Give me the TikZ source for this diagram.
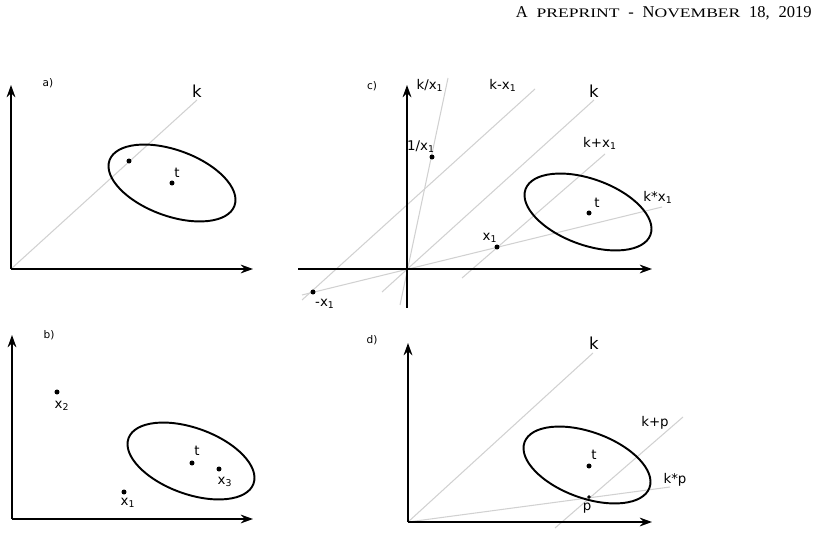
\documentclass[tikz,border=0pt]{standalone}
\usepackage{fontspec}
\setmainfont{Liberation Serif}
\newfontfamily\lblfont{DejaVu Sans}
\newfontfamily\scf[FakeStretch=1.35]{Liberation Serif}
\usetikzlibrary{arrows.meta,positioning,shapes}
\newcommand{\fsc}[1]{{\scf\fontsize{7.4}{8}\selectfont #1}}

\begin{document}
\begin{tikzpicture}[x=0.02cm,y=-0.02cm]
\tikzstyle{blackdot}=[draw=black,circle,fill=black,inner sep=0pt,minimum size=2.4pt]
\tikzstyle{axis}=[line width=1pt,-{Stealth[length=7pt,width=5pt]}]
\tikzstyle{guide}=[draw=black!18,line width=0.6pt]
\tikzstyle{region}=[draw=black,ellipse,line width=1.1pt,minimum width=2.66cm,minimum height=1.32cm,inner sep=0pt,rotate=-20]
\tikzstyle{lbl}=[font=\lblfont\fontsize{7.6}{9}\selectfont,inner sep=0pt]
\tikzstyle{biglbl}=[font=\lblfont\fontsize{9.4}{11}\selectfont,inner sep=0pt]
\tikzstyle{tag}=[font=\lblfont\fontsize{6}{7}\selectfont,inner sep=0pt]

\useasboundingbox (0,0) rectangle (820,536);
\node [anchor=base east,inner sep=0pt,font=\fontsize{9.4}{11}\selectfont] at (812,18) (head) {A\hskip5pt\fsc{PREPRINT}\hskip5pt-\hskip5pt N\fsc{OVEMBER}\hskip5pt 18,\hskip5pt 2019};

% a)
\coordinate (oa) at (11,269);
\coordinate (ya) at (11,85);
\coordinate (xa) at (253,269);
\coordinate (ka) at (197,100);
\draw [guide] (oa) -- (ka);
\node [region] at (172,183) (ea) {};
\node [blackdot] at (129,161) (qa) {};
\node [blackdot] at (172,183) (ta) {};
\draw [axis] (oa) -- (ya);
\draw [axis] (oa) -- (xa);
\node [tag] at (48,83) (taga) {a)};
\node [biglbl] at (197,91) (lka) {k};
\node [lbl] at (177,173) (lta) {t};

% b)
\coordinate (ob) at (12,519);
\coordinate (yb) at (12,335);
\coordinate (xb) at (253,519);
\node [region] at (191,461) (eb) {};
\node [blackdot] at (57,392) (x2b) {};
\node [blackdot] at (124,492) (x1b) {};
\node [blackdot] at (192,463) (tb) {};
\node [blackdot] at (219,469) (x3b) {};
\draw [axis] (ob) -- (yb);
\draw [axis] (ob) -- (xb);
\node [tag] at (49,335) (tagb) {b)};
\node [lbl] at (62,406) (lx2b) {x\textsubscript{2}};
\node [lbl] at (128,503) (lx1b) {x\textsubscript{1}};
\node [lbl] at (197,451) (ltb) {t};
\node [lbl] at (225,482) (lx3b) {x\textsubscript{3}};

% c)
\coordinate (oc) at (407,269);
\coordinate (ycb) at (407,308);
\coordinate (yc) at (407,85);
\coordinate (xcb) at (298,269);
\coordinate (xc) at (652,269);
\coordinate (kcb) at (382,292);
\coordinate (kc) at (594,100);
\coordinate (kdcb) at (400,305);
\coordinate (kdc) at (448,78);
\coordinate (kmcb) at (302,300);
\coordinate (kmc) at (535,89);
\coordinate (kpcb) at (462,278);
\coordinate (kpc) at (605,154);
\coordinate (ktcb) at (302,295);
\coordinate (ktc) at (662,207);
\draw [guide] (kcb) -- (kc);
\draw [guide] (kdcb) -- (kdc);
\draw [guide] (kmcb) -- (kmc);
\draw [guide] (kpcb) -- (kpc);
\draw [guide] (ktcb) -- (ktc);
\node [region] at (588,212) (ec) {};
\node [blackdot] at (432,157) (invc) {};
\node [blackdot] at (589,213) (tc) {};
\node [blackdot] at (497,247) (x1c) {};
\node [blackdot] at (313,292) (negc) {};
\draw [axis] (ycb) -- (yc);
\draw [axis] (xcb) -- (xc);
\node [tag] at (372,86) (tagc) {c)};
\node [lbl] at (430,85) (lkdc) {k/x\textsubscript{1}};
\node [lbl] at (503,85) (lkmc) {k-x\textsubscript{1}};
\node [biglbl] at (594,91) (lkc) {k};
\node [lbl] at (421,147) (linvc) {1/x\textsubscript{1}};
\node [lbl] at (600,143) (lkpc) {k+x\textsubscript{1}};
\node [lbl] at (658,197) (lktc) {k*x\textsubscript{1}};
\node [lbl] at (597,203) (ltc) {t};
\node [lbl] at (490,238) (lx1c) {x\textsubscript{1}};
\node [lbl] at (325,304) (lnegc) {-x\textsubscript{1}};

% d)
\coordinate (od) at (408,522);
\coordinate (yd) at (408,343);
\coordinate (xd) at (652,522);
\coordinate (kd) at (593,353);
\coordinate (kpdb) at (555,528);
\coordinate (kpd) at (683,417);
\coordinate (ktd) at (670,487);
\draw [guide] (od) -- (kd);
\draw [guide] (kpdb) -- (kpd);
\draw [guide] (od) -- (ktd);
\node [region] at (587,465) (ed) {};
\node [blackdot] at (589,466) (td) {};
\node [blackdot,minimum size=1.6pt] at (589,497) (pd) {};
\draw [axis] (od) -- (yd);
\draw [axis] (od) -- (xd);
\node [tag] at (372,340) (tagd) {d)};
\node [biglbl] at (594,343) (lkd) {k};
\node [lbl] at (594,455) (ltd) {t};
\node [lbl] at (655,423) (lkpd) {k+p};
\node [lbl] at (675,480) (lktd) {k*p};
\node [lbl] at (587,508) (lpd) {p};
\end{tikzpicture}
\end{document}
